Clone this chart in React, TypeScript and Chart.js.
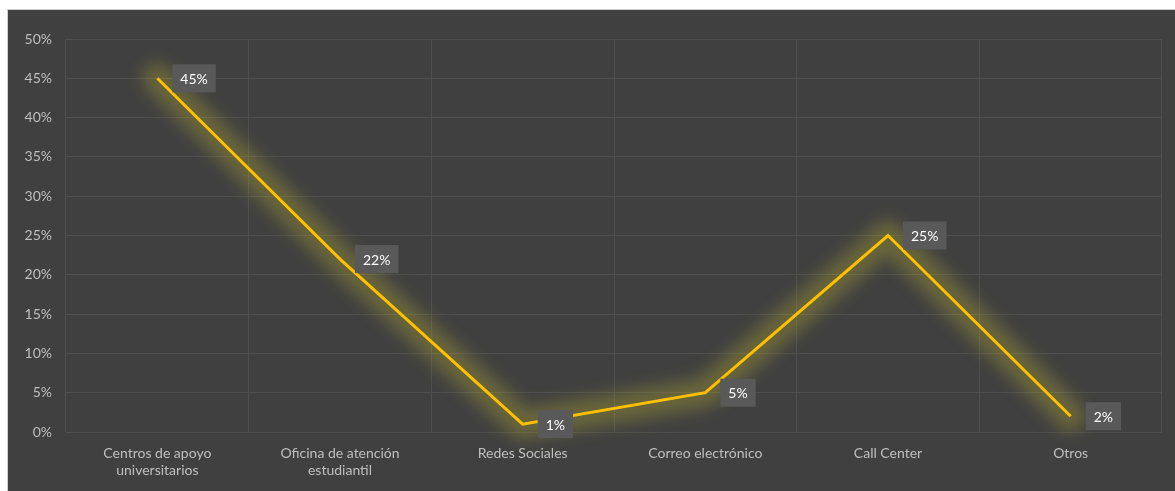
import React, { useEffect, useRef } from "react";
import { Chart, registerables } from "chart.js";

Chart.register(...registerables);

const categories: (string | string[])[] = [
  ["Centros de apoyo", "universitarios"],
  ["Oficina de atención", "estudiantil"],
  "Redes Sociales",
  "Correo electrónico",
  "Call Center",
  "Otros",
];
const values = [45, 22, 1, 5, 25, 2];
const yMin = 0;
const yMax = 50;
const yStep = 5;

const FONT = "Lato, 'Open Sans', sans-serif";

const glowPlugin = {
  id: "glow",
  beforeDatasetsDraw(chart: any) {
    const ctx = chart.ctx as CanvasRenderingContext2D;
    const meta = chart.getDatasetMeta(0);
    const pts = meta.data;
    if (!pts.length) return;
    ctx.save();
    ctx.filter = "blur(8px)";
    ctx.strokeStyle = "rgba(200,190,45,0.3)";
    ctx.lineWidth = 30;
    ctx.lineJoin = "round";
    ctx.lineCap = "round";
    ctx.beginPath();
    pts.forEach((p: any, i: number) => {
      if (i === 0) ctx.moveTo(p.x, p.y);
      else ctx.lineTo(p.x, p.y);
    });
    ctx.stroke();
    ctx.restore();
  },
};

const labelPlugin = {
  id: "boxLabels",
  afterDatasetsDraw(chart: any) {
    const ctx = chart.ctx as CanvasRenderingContext2D;
    const meta = chart.getDatasetMeta(0);
    const data = chart.data.datasets[0].data as number[];
    ctx.save();
    ctx.font = `14px ${FONT}`;
    ctx.textBaseline = "middle";
    ctx.textAlign = "center";
    meta.data.forEach((p: any, i: number) => {
      const txt = `${data[i]}%`;
      const w = ctx.measureText(txt).width + 16;
      const h = 28;
      const x0 = p.x + 15;
      const y0 = p.y - h / 2;
      ctx.fillStyle = "#595959";
      ctx.fillRect(x0, y0, w, h);
      ctx.fillStyle = "#ffffff";
      ctx.fillText(txt, x0 + w / 2, p.y + 1);
    });
    ctx.restore();
  },
};

export default function App() {
  const ref = useRef<HTMLCanvasElement | null>(null);
  useEffect(() => {
    if (!ref.current) return;
    const chart = new Chart(ref.current, {
      type: "line",
      data: {
        labels: categories,
        datasets: [
          {
            data: values,
            borderColor: "#FFC000",
            borderWidth: 3,
            pointRadius: 0,
            tension: 0,
            fill: false,
          },
        ],
      },
      options: {
        responsive: true,
        maintainAspectRatio: false,
        animation: false,
        layout: { padding: { top: 29, right: 13, left: 0, bottom: 0 } },
        plugins: { legend: { display: false }, tooltip: { enabled: false } },
        scales: {
          x: {
            offset: true,
            grid: { offset: true, color: "#4f4f4f", drawTicks: false },
            border: { display: false },
            ticks: {
              color: "#bfbfbf",
              font: { family: FONT, size: 14 },
              padding: 13,
              maxRotation: 0,
              autoSkip: false,
            },
            afterFit: (s: any) => {
              s.height = 59;
            },
          },
          y: {
            min: yMin,
            max: yMax,
            ticks: {
              stepSize: yStep,
              callback: (v: any) => `${v}%`,
              color: "#bfbfbf",
              font: { family: FONT, size: 14 },
              padding: 14,
            },
            grid: { color: "#4f4f4f", drawTicks: false },
            border: { display: false },
            afterFit: (s: any) => {
              s.width = 58;
            },
          },
        },
      },
      plugins: [glowPlugin, labelPlugin],
    });
    return () => chart.destroy();
  }, []);

  return (
    <div
      style={{
        position: "absolute",
        left: 7,
        top: 9,
        width: 1168,
        height: 482,
        boxSizing: "border-box",
        borderTop: "1px solid #d0d0d0",
        borderLeft: "1px solid #d0d0d0",
        background: "#404040",
      }}
    >
      <div style={{ position: "relative", width: 1167, height: 481 }}>
        <canvas ref={ref} />
      </div>
    </div>
  );
}
